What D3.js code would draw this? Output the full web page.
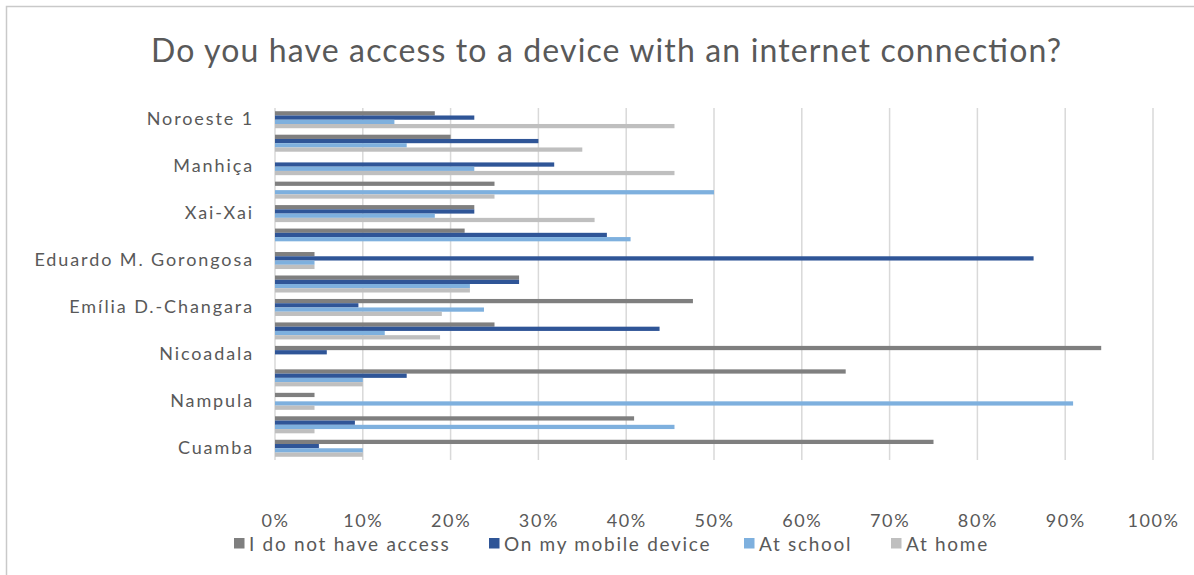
<!DOCTYPE html>
<html>
<head>
<meta charset="utf-8">
<script src="https://cdn.jsdelivr.net/npm/d3@7"></script>
<style>
  html, body { margin: 0; padding: 0; background: #fff; }
  svg { display: block; }
  text { font-family: Lato, "Open Sans", sans-serif; fill: #595959; }
</style>
</head>
<body>
<svg id="chart" width="1194" height="575"></svg>
<script>
// Schools, top to bottom; only every other name fits on the axis
const schools = [
  "Noroeste 1", "", "Manhiça", "", "Xai-Xai", "",
  "Eduardo M. Gorongosa", "", "Emília D.-Changara", "",
  "Nicoadala", "", "Nampula", "", "Cuamba"
];

const seriesNames = ["I do not have access", "On my mobile device", "At school", "At home"];
const seriesColors = ["#7f7f7f", "#2f5597", "#7eb0de", "#bfbfbf"];

// Share of respondents per school (%), same order as schools
const noAccess = [18.2, 20.0, 0, 25.0, 22.7, 21.6, 4.5, 27.8, 47.6, 25.0, 94.1, 65.0, 4.5, 40.9, 75.0];
const mobile   = [22.7, 30.0, 31.8, 0, 22.7, 37.8, 86.4, 27.8, 9.5, 43.8, 5.9, 15.0, 0, 9.1, 5.0];
const school   = [13.6, 15.0, 22.7, 50.0, 18.2, 40.5, 4.5, 22.2, 23.8, 12.5, 0, 10.0, 90.9, 45.5, 10.0];
const home     = [45.5, 35.0, 45.5, 25.0, 36.4, 0, 4.5, 22.2, 19.0, 18.8, 0, 10.0, 4.5, 4.5, 10.0];

const xTicks = [0, 10, 20, 30, 40, 50, 60, 70, 80, 90, 100];

const series = [noAccess, mobile, school, home];

const svg = d3.select("#chart");

// chart area frame
svg.append("rect")
  .attr("x", 6.5).attr("y", 6.5)
  .attr("width", 1200).attr("height", 600)
  .attr("fill", "none").attr("stroke", "#c9c9c9").attr("stroke-width", 1.5);

// title
svg.append("text")
  .attr("x", 606).attr("y", 62)
  .attr("text-anchor", "middle")
  .attr("textLength", 910)
  .attr("lengthAdjust", "spacing")
  .style("font-size", "32px")
  .text("Do you have access to a device with an internet connection?");

const plot = { left: 275, right: 1153, top: 108, bottom: 460 };

const x = d3.scaleLinear().domain([0, 100]).range([plot.left, plot.right]);
const y = d3.scaleBand().domain(d3.range(schools.length))
  .range([plot.top, plot.bottom]).paddingInner(0.275).paddingOuter(0.1375);
const inner = d3.scaleBand().domain(d3.range(series.length)).range([0, y.bandwidth()]);

// vertical gridlines
svg.append("g")
  .selectAll("line")
  .data(xTicks)
  .join("line")
  .attr("x1", d => x(d)).attr("x2", d => x(d))
  .attr("y1", plot.top).attr("y2", plot.bottom)
  .attr("stroke", "#d9d9d9").attr("stroke-width", 1.5);

// bars
const groups = svg.append("g")
  .selectAll("g")
  .data(series)
  .join("g")
  .attr("fill", (d, i) => seriesColors[i]);

groups.each(function (vals, si) {
  d3.select(this).selectAll("rect")
    .data(vals)
    .join("rect")
    .attr("x", x(0))
    .attr("y", (v, ci) => y(ci) + inner(si))
    .attr("width", v => x(v) - x(0))
    .attr("height", inner.bandwidth());
});

// category axis
const yAxis = d3.axisLeft(y).tickSize(0).tickPadding(0).tickFormat(i => schools[i]);
const yg = svg.append("g").attr("transform", `translate(${plot.left - 21},0)`).call(yAxis);
yg.select(".domain").remove();
yg.selectAll("text").style("font-size", "18px").style("fill", "#595959")
  .style("font-family", "Lato, 'Open Sans', sans-serif").style("letter-spacing", "1.9px")
  .attr("dy", "0.3em");

// value axis
const xAxis = d3.axisBottom(x).tickValues(xTicks).tickSize(0).tickPadding(0).tickFormat(d => d + "%");
const xg = svg.append("g").attr("transform", `translate(0,${plot.bottom + 67})`).call(xAxis);
xg.select(".domain").remove();
xg.selectAll("text").style("font-size", "18px").style("fill", "#595959")
  .style("font-family", "Lato, 'Open Sans', sans-serif").style("letter-spacing", "1.6px")
  .attr("dy", "0");

// legend
const legendX = [234, 489, 744, 891];
const legend = svg.append("g").selectAll("g")
  .data(seriesNames)
  .join("g")
  .attr("transform", (d, i) => `translate(${legendX[i]},544)`);
legend.append("rect")
  .attr("x", 0).attr("y", -6).attr("width", 10.5).attr("height", 10.5)
  .attr("fill", (d, i) => seriesColors[i]);
legend.append("text")
  .attr("x", 15).attr("y", 7)
  .style("font-size", "19px")
  .style("letter-spacing", "1.7px")
  .text(d => d);
</script>
</body>
</html>
